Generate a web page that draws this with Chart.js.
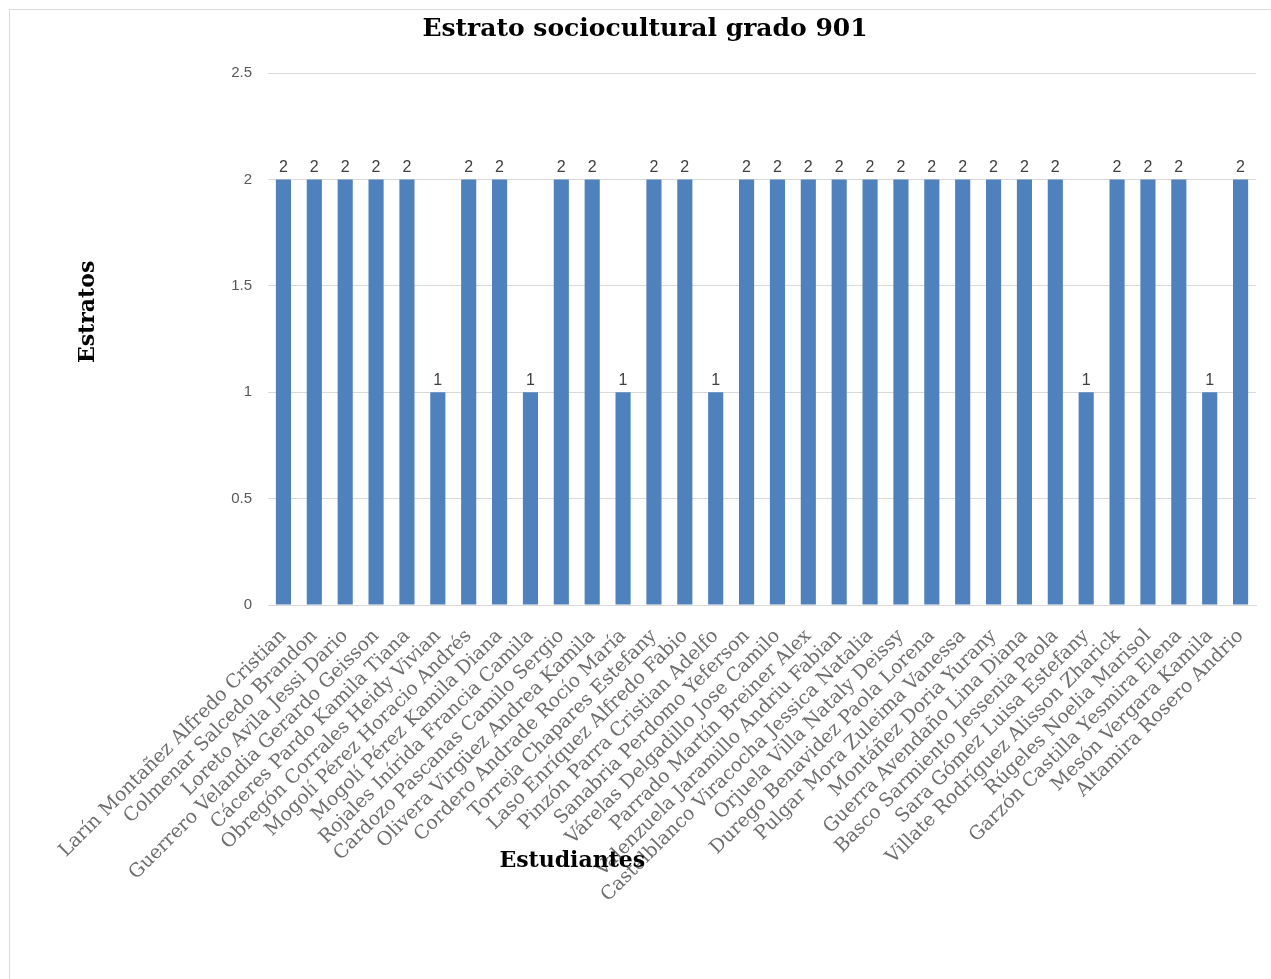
<!DOCTYPE html>
<html>
<head>
<meta charset="utf-8">
<title>Estrato sociocultural grado 901</title>
<script src="https://cdn.jsdelivr.net/npm/chart.js@4/dist/chart.umd.min.js"></script>
<style>
  html, body { margin: 0; padding: 0; background: #ffffff; }
  #wrap { position: relative; width: 1271px; height: 979px; }
  #frame { position: absolute; left: 9px; top: 9px; right: 0; bottom: 0;
           border-left: 1px solid #d9d9d9; border-top: 1px solid #d9d9d9; pointer-events: none; }
  canvas { display: block; }
</style>
</head>
<body>
<div id="wrap">
  <canvas id="grafico" width="1271" height="979"></canvas>
  <div id="frame"></div>
</div>
<script>
// Estudiantes del grado 901
const estudiantes = [
  "Larín Montañez Alfredo Cristian",
  "Colmenar Salcedo Brandon",
  "Loreto Avila Jessi Dario",
  "Guerrero Velandia Gerardo Geisson",
  "Cáceres Pardo Kamila Tiana",
  "Obregón Corrales Heidy Vivian",
  "Mogolí Pérez Horacio Andrés",
  "Mogolí Pérez Kamila Diana",
  "Rojales Inírida Francia Camila",
  "Cardozo Pascanas Camilo Sergio",
  "Olivera Virgüez Andrea Kamila",
  "Cordero Andrade Rocío María",
  "Torreja Chapares Estefany",
  "Laso Enríquez Alfredo Fabio",
  "Pinzón Parra Cristian Adelfo",
  "Sanabria Perdomo Yeferson",
  "Várelas Delgadillo Jose Camilo",
  "Parrado Martín Breiner Alex",
  "Valenzuela Jaramillo Andriu Fabian",
  "Castelblanco Viracocha Jessica Natalia",
  "Orjuela Villa Nataly Deissy",
  "Durego Benavidez Paola Lorena",
  "Pulgar Mora Zuleima Vanessa",
  "Montáñez Doria Yurany",
  "Guerra Avendaño Lina Diana",
  "Basco Sarmiento Jessenia Paola",
  "Sara Gómez Luisa Estefany",
  "Villate Rodríguez Alisson Zharick",
  "Rúgeles Noelia Marisol",
  "Garzón Castilla Yesmira Elena",
  "Mesón Vergara Kamila",
  "Altamira Rosero Andrio"
];

// Estrato de cada estudiante
const estratos = [
  2, 2, 2, 2, 2, 1, 2, 2, 1, 2, 2, 1, 2, 2, 1, 2,
  2, 2, 2, 2, 2, 2, 2, 2, 2, 2, 1, 2, 2, 2, 1, 2
];

// Marcas del eje vertical
const ejeYMarcas = [0, 0.5, 1, 1.5, 2, 2.5];

const tituloGrafico = "Estrato sociocultural grado 901";
const tituloEjeY = "Estratos";
const tituloEjeX = "Estudiantes";

const gris = '#595959';
const azul = '#4f81bd';

// Valor encima de cada barra
const etiquetasValor = {
  id: 'etiquetasValor',
  afterDatasetsDraw(chart) {
    const ctx = chart.ctx;
    ctx.save();
    ctx.font = '16px "Liberation Sans", Arial, sans-serif';
    ctx.fillStyle = '#404040';
    ctx.textAlign = 'center';
    ctx.textBaseline = 'bottom';
    chart.data.datasets.forEach((ds, i) => {
      chart.getDatasetMeta(i).data.forEach((bar, j) => {
        ctx.fillText(String(ds.data[j]), bar.x, bar.y - 4);
      });
    });
    ctx.restore();
  }
};

// Título del gráfico y títulos de los ejes
const titulos = {
  id: 'titulos',
  afterDraw(chart) {
    const ctx = chart.ctx;
    const a = chart.chartArea;
    ctx.save();
    ctx.fillStyle = '#000000';
    ctx.textAlign = 'center';
    ctx.textBaseline = 'middle';

    ctx.font = 'bold 25px "DejaVu Serif", serif';
    ctx.fillText(tituloGrafico, 645, a.top - 44);

    ctx.font = 'bold 22px "DejaVu Serif", serif';
    ctx.fillText(tituloEjeX, a.left + (a.right - a.left) * 0.308, a.bottom + 256);

    ctx.translate(88, a.top + (a.bottom - a.top) * 0.449);
    ctx.rotate(-Math.PI / 2);
    ctx.fillText(tituloEjeY, 0, 0);
    ctx.restore();
  }
};

new Chart(document.getElementById('grafico'), {
  type: 'bar',
  data: {
    labels: estudiantes,
    datasets: [{
      label: 'Estrato',
      data: estratos,
      backgroundColor: azul,
      borderWidth: 0,
      categoryPercentage: 1,
      barPercentage: 0.49
    }]
  },
  options: {
    responsive: false,
    animation: false,
    devicePixelRatio: 1,
    layout: { padding: { top: 73, right: 15, bottom: 0, left: 0 } },
    plugins: {
      legend: { display: false },
      title: { display: false },
      tooltip: { enabled: false }
    },
    scales: {
      x: {
        grid: { display: false },
        border: { display: true, color: '#d9d9d9', width: 1 },
        ticks: {
          color: '#6e6e6e',
          font: { family: '"DejaVu Serif", serif', size: 19 },
          minRotation: 45,
          maxRotation: 45,
          autoSkip: false,
          padding: 12
        },
        afterFit(scale) { scale.height = 374; }
      },
      y: {
        min: ejeYMarcas[0],
        max: ejeYMarcas[ejeYMarcas.length - 1],
        grid: { color: '#d9d9d9', drawTicks: false, lineWidth: 1 },
        border: { display: false },
        afterBuildTicks(scale) {
          scale.ticks = ejeYMarcas.map(v => ({ value: v }));
        },
        ticks: {
          color: gris,
          font: { family: '"Liberation Sans", Arial, sans-serif', size: 15 },
          padding: 16,
          callback: v => String(v)
        },
        afterFit(scale) { scale.width = 268; }
      }
    }
  },
  plugins: [etiquetasValor, titulos]
});
</script>
</body>
</html>
